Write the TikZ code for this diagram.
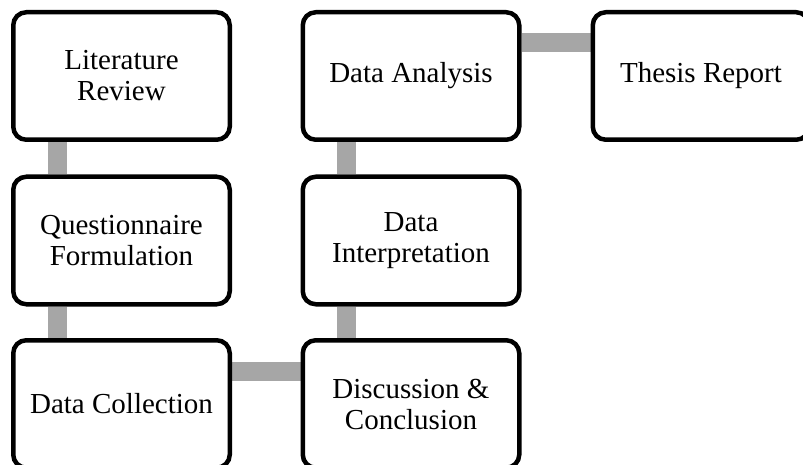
\documentclass[tikz,border=0pt]{standalone}
\usepackage{fontspec}
\setmainfont{Liberation Serif}
\usetikzlibrary{backgrounds}
\definecolor{linkgray}{RGB}{166,166,166}
\tikzset{
  stage/.style={draw, line width=4.5pt, rounded corners=13pt, fill=white,
    minimum width=216.5pt, minimum height=127.5pt, align=center,
    font=\fontsize{29}{31}\selectfont},
  link/.style={draw=linkgray, line width=19pt}
}

\begin{document}
\begin{tikzpicture}[x=1pt,y=-1pt]
\newcommand{\stgs}{lit/121.5/76/{Literature\\Review}, quest/121.5/240.5/{Questionnaire\\Formulation},
  coll/121.5/404/{Data Collection}, disc/411/404/{Discussion \&\\Conclusion},
  interp/411/240.5/{Data\\Interpretation}, anal/411/76/{Data Analysis}, thesis/701/76/{Thesis Report}}

\useasboundingbox (0,0) rectangle (803,465);

\foreach \n / \x / \y / \t in \stgs {
  \node[stage] (\n) at (\x,\y) {\t};
}

\begin{scope}[on background layer]
\foreach \a / \b in {lit/quest, quest/coll, anal/interp, interp/disc}
  \draw[link] ([xshift=-64.5pt]\a.south) -- ([xshift=-64.5pt]\b.north);
\foreach \a / \b in {coll/disc, anal/thesis}
  \draw[link] ([yshift=33pt]\a.east) -- ([yshift=33pt]\b.west);
\end{scope}

\end{tikzpicture}
\end{document}
